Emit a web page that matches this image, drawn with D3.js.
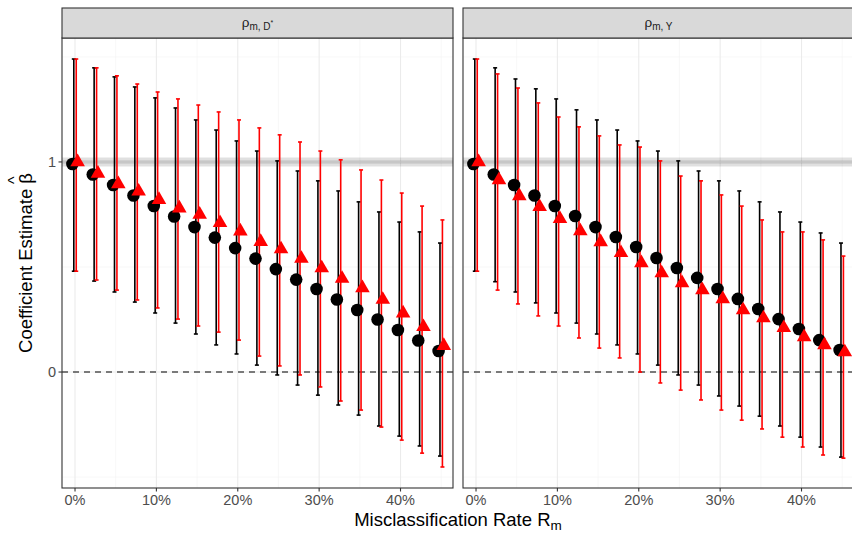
<!DOCTYPE html>
<html>
<head>
<meta charset="utf-8">
<script src="https://cdn.jsdelivr.net/npm/d3@7"></script>
<style>
  body { margin: 0; background: #fff; }
  text { font-family: "Liberation Sans", Arial, sans-serif; }
</style>
</head>
<body>
<div id="chart"></div>
<script>
"use strict";

// misclassification rates
const rates = [0, 0.025, 0.05, 0.075, 0.1, 0.125, 0.15, 0.175, 0.2, 0.225,
  0.25, 0.275, 0.3, 0.325, 0.35, 0.375, 0.4, 0.425, 0.45];

// panel 1: rho_{m,D*}
const p1BlackEst = [0.99, 0.94, 0.89, 0.84, 0.79, 0.74, 0.69, 0.64, 0.59, 0.54,
  0.49, 0.44, 0.395, 0.345, 0.295, 0.25, 0.20, 0.15, 0.10];
const p1BlackLo = [0.48, 0.433, 0.381, 0.333, 0.281, 0.233, 0.181, 0.129, 0.086, 0.033,
  -0.014, -0.062, -0.11, -0.157, -0.205, -0.257, -0.305, -0.352, -0.40];
const p1BlackHi = [1.49, 1.448, 1.405, 1.357, 1.305, 1.257, 1.20, 1.152, 1.10, 1.052,
  1.005, 0.957, 0.91, 0.862, 0.81, 0.762, 0.714, 0.667, 0.614];
const p1RedEst = [1.0, 0.945, 0.895, 0.86, 0.82, 0.78, 0.75, 0.71, 0.67, 0.62,
  0.585, 0.54, 0.495, 0.445, 0.40, 0.345, 0.28, 0.215, 0.125];
const p1RedLo = [0.48, 0.438, 0.39, 0.343, 0.305, 0.252, 0.219, 0.19, 0.152, 0.076,
  0.029, -0.014, -0.071, -0.138, -0.181, -0.262, -0.324, -0.386, -0.452];
const p1RedHi = [1.49, 1.448, 1.41, 1.371, 1.333, 1.30, 1.271, 1.238, 1.20, 1.162,
  1.129, 1.095, 1.052, 1.01, 0.962, 0.914, 0.852, 0.79, 0.724];

// panel 2: rho_{m,Y}
const p2BlackEst = [0.99, 0.94, 0.89, 0.84, 0.79, 0.743, 0.69, 0.643, 0.595, 0.543,
  0.495, 0.448, 0.395, 0.348, 0.30, 0.252, 0.205, 0.152, 0.105];
const p2BlackLo = [0.48, 0.43, 0.381, 0.329, 0.281, 0.233, 0.181, 0.129, 0.086, 0.033,
  -0.014, -0.062, -0.114, -0.162, -0.21, -0.257, -0.31, -0.357, -0.405];
const p2BlackHi = [1.49, 1.448, 1.395, 1.348, 1.30, 1.248, 1.20, 1.152, 1.10, 1.052,
  1.005, 0.957, 0.91, 0.862, 0.81, 0.762, 0.714, 0.662, 0.614];
const p2RedEst = [1.0, 0.914, 0.838, 0.786, 0.729, 0.671, 0.619, 0.567, 0.519, 0.471,
  0.424, 0.39, 0.348, 0.295, 0.257, 0.21, 0.167, 0.129, 0.095];
const p2RedLo = [0.48, 0.39, 0.324, 0.267, 0.219, 0.162, 0.114, 0.067, 0.0, -0.052,
  -0.086, -0.133, -0.181, -0.229, -0.271, -0.31, -0.357, -0.395, -0.41];
const p2RedHi = [1.49, 1.419, 1.352, 1.281, 1.214, 1.167, 1.124, 1.081, 1.071, 1.005,
  0.933, 0.91, 0.843, 0.79, 0.724, 0.667, 0.667, 0.629, 0.552];

const xTicks = [0, 0.1, 0.2, 0.3, 0.4];
const xMinor = [0.05, 0.15, 0.25, 0.35, 0.45];
const yTicks = [0, 1];
const yMinor = [-0.5, 0.5, 1.5];

///////////////////////////
// sizing
///////////////////////////
const W = 852, H = 535;
const plotTop = 38, plotBottom = 488;
const stripTop = 8;
const panels = [
  { left: 62, right: 453, strip: "D", black: [p1BlackEst, p1BlackLo, p1BlackHi], red: [p1RedEst, p1RedLo, p1RedHi] },
  { left: 463, right: 854, strip: "Y", black: [p2BlackEst, p2BlackLo, p2BlackHi], red: [p2RedEst, p2RedLo, p2RedHi] },
];

const svg = d3.select("#chart").append("svg")
  .attr("width", W).attr("height", H);

const y = d3.scaleLinear().domain([-0.552, 1.590]).range([plotBottom, plotTop]);

const ptShift = 0.0032, barShift = 0.0015;

panels.forEach((p, pi) => {
  const x = d3.scaleLinear().domain([-0.016, 0.4645]).range([p.left, p.right]);
  const g = svg.append("g");

  // gridlines
  g.selectAll(".ymin").data(yMinor).enter().append("line")
    .attr("x1", p.left).attr("x2", p.right)
    .attr("y1", d => y(d)).attr("y2", d => y(d))
    .attr("stroke", "#f4f4f4").attr("stroke-width", 0.6);
  g.selectAll(".xmin").data(xMinor).enter().append("line")
    .attr("y1", plotTop).attr("y2", plotBottom)
    .attr("x1", d => x(d)).attr("x2", d => x(d))
    .attr("stroke", "#f4f4f4").attr("stroke-width", 0.6);
  g.selectAll(".ymaj").data(yTicks).enter().append("line")
    .attr("x1", p.left).attr("x2", p.right)
    .attr("y1", d => y(d)).attr("y2", d => y(d))
    .attr("stroke", "#ebebeb").attr("stroke-width", 1.1);
  g.selectAll(".xmaj").data(xTicks).enter().append("line")
    .attr("y1", plotTop).attr("y2", plotBottom)
    .attr("x1", d => x(d)).attr("x2", d => x(d))
    .attr("stroke", "#ebebeb").attr("stroke-width", 1.1);

  // reference lines
  g.append("line")
    .attr("x1", p.left).attr("x2", p.right)
    .attr("y1", y(1)).attr("y2", y(1))
    .attr("stroke", "#000").attr("stroke-opacity", 0.12).attr("stroke-width", 9);
  g.append("line")
    .attr("x1", p.left).attr("x2", p.right)
    .attr("y1", y(1)).attr("y2", y(1))
    .attr("stroke", "#000").attr("stroke-opacity", 0.07).attr("stroke-width", 4);
  g.append("line")
    .attr("x1", p.left).attr("x2", p.right)
    .attr("y1", y(0)).attr("y2", y(0))
    .attr("stroke", "#000").attr("stroke-width", 1.1)
    .attr("stroke-dasharray", "6,5");

  // error bars
  const drawBars = (series, color, shift) => {
    const rows = rates.map((r, i) => ({ r, lo: series[1][i], hi: series[2][i] }));
    const eb = g.append("g");
    eb.selectAll("line.v").data(rows).enter().append("line")
      .attr("x1", d => x(d.r + shift)).attr("x2", d => x(d.r + shift))
      .attr("y1", d => y(d.lo)).attr("y2", d => y(d.hi))
      .attr("stroke", color).attr("stroke-width", 1.6);
    ["lo", "hi"].forEach(k => {
      eb.selectAll("line." + k).data(rows).enter().append("line")
        .attr("x1", d => x(d.r + shift) - 2).attr("x2", d => x(d.r + shift) + 2)
        .attr("y1", d => y(d[k])).attr("y2", d => y(d[k]))
        .attr("stroke", color).attr("stroke-width", 1.6);
    });
  };
  drawBars(p.black, "#000", -barShift);
  drawBars(p.red, "#ff0000", barShift);

  // points
  g.selectAll("circle.b").data(rates).enter().append("circle")
    .attr("cx", d => x(d - ptShift))
    .attr("cy", (d, i) => y(p.black[0][i]))
    .attr("r", 6.3).attr("fill", "#000");
  g.selectAll("path.r").data(rates).enter().append("path")
    .attr("d", d3.symbol().type(d3.symbolTriangle).size(92))
    .attr("transform", (d, i) => `translate(${x(d + ptShift)},${y(p.red[0][i])})`)
    .attr("fill", "#ff0000");

  // panel border
  g.append("rect")
    .attr("x", p.left).attr("y", plotTop)
    .attr("width", p.right - p.left).attr("height", plotBottom - plotTop)
    .attr("fill", "none").attr("stroke", "#333").attr("stroke-width", 1.1);

  // strip
  g.append("rect")
    .attr("x", p.left).attr("y", stripTop)
    .attr("width", p.right - p.left).attr("height", plotTop - stripTop)
    .attr("fill", "#d9d9d9").attr("stroke", "#333").attr("stroke-width", 1.1);
  const st = g.append("text")
    .attr("x", (p.left + p.right) / 2).attr("y", 27)
    .attr("text-anchor", "middle")
    .attr("fill", "#1a1a1a").style("font-size", "13.5px");
  st.append("tspan").text("ρ");
  st.append("tspan").attr("dy", 3).style("font-size", "10px")
    .text(p.strip === "D" ? "m, D" : "m, Y");
  if (p.strip === "D") {
    st.append("tspan").attr("dy", -5).style("font-size", "7px").text("*");
  }

  // x axis
  g.selectAll(".xt").data(xTicks).enter().append("line")
    .attr("x1", d => x(d)).attr("x2", d => x(d))
    .attr("y1", plotBottom).attr("y2", plotBottom + 3.5)
    .attr("stroke", "#333").attr("stroke-width", 1.1);
  g.selectAll(".xl").data(xTicks).enter().append("text")
    .attr("x", d => x(d)).attr("y", plotBottom + 17)
    .attr("text-anchor", "middle")
    .attr("fill", "#4d4d4d").style("font-size", "14.5px")
    .text(d => d3.format(".0%")(d));

  // y axis on first panel only
  if (pi === 0) {
    g.selectAll(".yt").data(yTicks).enter().append("line")
      .attr("x1", p.left - 3.5).attr("x2", p.left)
      .attr("y1", d => y(d)).attr("y2", d => y(d))
      .attr("stroke", "#333").attr("stroke-width", 1.1);
    g.selectAll(".yl").data(yTicks).enter().append("text")
      .attr("x", p.left - 6).attr("y", d => y(d) + 5)
      .attr("text-anchor", "end")
      .attr("fill", "#4d4d4d").style("font-size", "14.5px")
      .text(d => d);
  }
});

// axis titles
const xt = svg.append("text")
  .attr("x", 458).attr("y", 526)
  .attr("text-anchor", "middle")
  .attr("fill", "#000").style("font-size", "18.5px");
xt.append("tspan").text("Misclassification Rate R");
xt.append("tspan").attr("dy", 4).style("font-size", "13.5px").text("m");

const yt = svg.append("text")
  .attr("transform", `translate(32,${(plotTop + plotBottom) / 2}) rotate(-90)`)
  .attr("text-anchor", "middle")
  .attr("fill", "#000").style("font-size", "18.5px");
yt.append("tspan").text("Coefficient Estimate β");
yt.append("tspan").attr("dx", -11).attr("dy", -12).style("font-size", "16px").text("^");
</script>
</body>
</html>
